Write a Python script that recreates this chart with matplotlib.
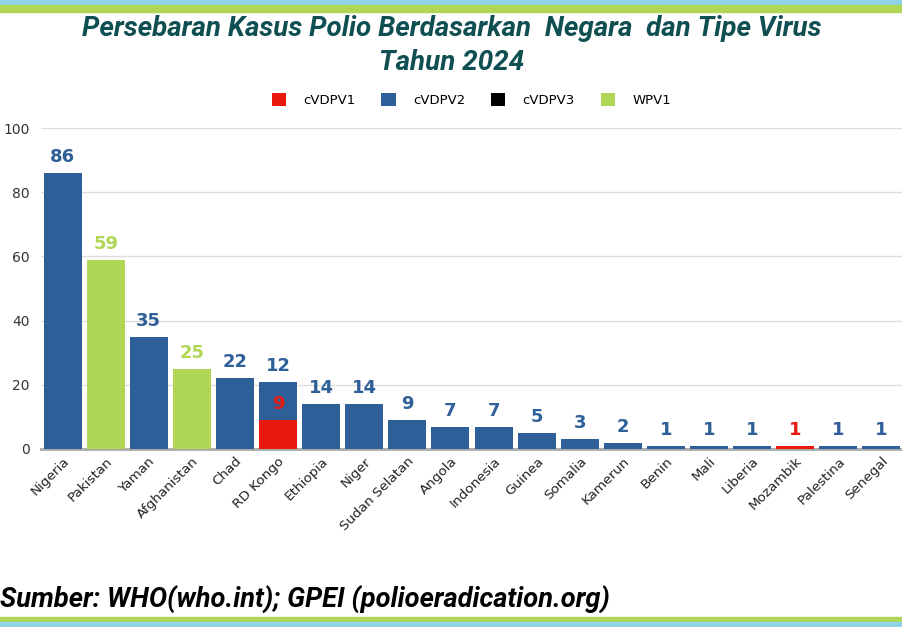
import matplotlib
matplotlib.use("Agg")
import matplotlib.pyplot as plt
import numpy as np
from matplotlib.patches import Rectangle

countries = ["Nigeria", "Pakistan", "Yaman", "Afghanistan", "Chad", "RD Kongo", "Ethiopia",
             "Niger", "Sudan Selatan", "Angola", "Indonesia", "Guinea", "Somalia", "Kamerun",
             "Benin", "Mali", "Liberia", "Mozambik", "Palestina", "Senegal"]
cvdpv1 = [0, 0, 0, 0, 0, 9, 0, 0, 0, 0, 0, 0, 0, 0, 0, 0, 0, 1, 0, 0]
cvdpv2 = [86, 0, 35, 0, 22, 12, 14, 14, 9, 7, 7, 5, 3, 2, 1, 1, 1, 0, 1, 1]
cvdpv3 = [0] * 20
wpv1 = [0, 59, 0, 25, 0, 0, 0, 0, 0, 0, 0, 0, 0, 0, 0, 0, 0, 0, 0, 0]
series_names = ["cVDPV1", "cVDPV2", "cVDPV3", "WPV1"]
yticks = [0, 20, 40, 60, 80, 100]

colors = ["#e8190f", "#2e5f99", "#000000", "#b0d655"]
title_color = "#0f4f52"
W, H = 903, 627

fig = plt.figure(figsize=(W / 100, H / 100), dpi=100)
fig.patch.set_facecolor("white")

# decorative stripes
fig.add_artist(Rectangle((0, 1 - 5/H), 1, 5/H, transform=fig.transFigure, color="#8fd3e6", zorder=0))
fig.add_artist(Rectangle((0, 1 - 12/H), 1, 7/H, transform=fig.transFigure, color="#b0d655", zorder=0))
fig.add_artist(Rectangle((0, 5/H), 1, 5/H, transform=fig.transFigure, color="#b0d655", zorder=0))
fig.add_artist(Rectangle((0, 0), 1, 5/H, transform=fig.transFigure, color="#8fd3e6", zorder=0))

ax = fig.add_axes([41/W, 1 - 449/H, 1 - 41/W, (449 - 128)/H])
x = np.arange(len(countries))
width = 0.88
bottom = np.zeros(len(countries))
data = [cvdpv1, cvdpv2, cvdpv3, wpv1]
for name, vals, col in zip(series_names, data, colors):
    vals = np.array(vals, dtype=float)
    ax.bar(x, vals, width, bottom=bottom, color=col, label=name, zorder=3)
    for xi, v, b in zip(x, vals, bottom):
        if v > 0:
            ax.annotate(f"{int(v)}", (xi, b + v), xytext=(0, 5), textcoords="offset points",
                        ha="center", va="bottom", fontsize=13, fontweight="bold",
                        color=col, zorder=5, annotation_clip=False)
    bottom += vals

ax.set_xlim(-0.5, len(countries) - 0.5)
ax.set_ylim(0, 100)
ax.set_yticks(yticks)
ax.set_yticklabels([str(t) for t in yticks], fontsize=10, color="#333333")
ax.set_xticks(x)
ax.set_xticklabels(countries, rotation=45, ha="right", rotation_mode="anchor", fontsize=9.7, color="#222222")
ax.tick_params(axis="both", length=0)
ax.tick_params(axis="y", pad=8)
ax.tick_params(axis="x", pad=4)
ax.yaxis.grid(True, color="#dddddd", linewidth=1, zorder=0)
ax.set_axisbelow(True)
for s in ["top", "right", "left"]:
    ax.spines[s].set_visible(False)
ax.spines["bottom"].set_color("#aaaaaa")
ax.spines["bottom"].set_linewidth(2)

leg = fig.legend(loc="center", bbox_to_anchor=(0.522, 1 - 100/H), ncol=4, frameon=False,
                 fontsize=9.5, handlelength=1.1, handleheight=1.1, columnspacing=1.95, handletextpad=1.3)

t1 = fig.text(0.5, 1 - 28/H, "Persebaran Kasus Polio Berdasarkan  Negara  dan Tipe Virus",
              ha="center", va="center", fontsize=17, fontweight="bold", fontstyle="italic",
              color=title_color, family="Roboto")
t2 = fig.text(0.5, 1 - 62/H, "Tahun 2024",
              ha="center", va="center", fontsize=17, fontweight="bold", fontstyle="italic",
              color=title_color, family="Roboto")
src = fig.text(0.0, 1 - 600/H, "Sumber: WHO(who.int); GPEI (polioeradication.org)",
               ha="left", va="center", fontsize=16, fontweight="bold", fontstyle="italic",
               color="black", family="Roboto")

# fit text widths to the reference layout
r = fig.canvas.get_renderer()
w1 = t1.get_window_extent(r).width
scale = 740 / w1
t1.set_fontsize(17 * scale)
t2.set_fontsize(17 * scale)
ws = src.get_window_extent(r).width
src.set_fontsize(16 * 610 / ws)

fig.savefig("out.png", dpi=100)
